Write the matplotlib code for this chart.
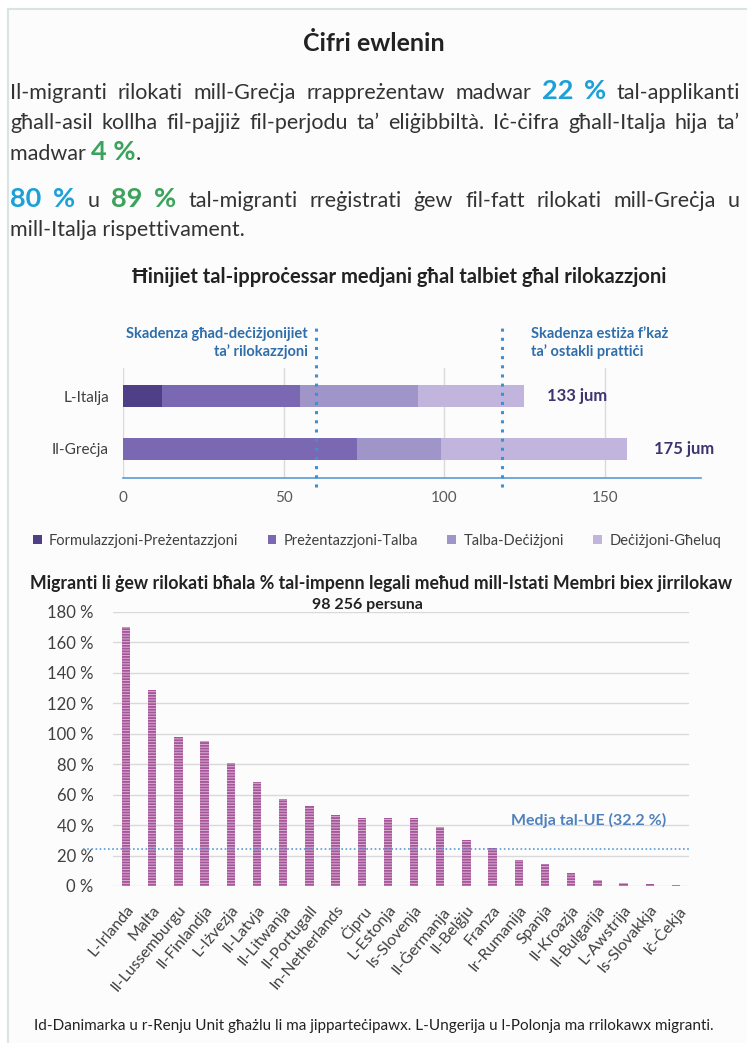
import matplotlib
matplotlib.use('Agg')
import matplotlib.pyplot as plt
from matplotlib.patches import Rectangle
import numpy as np

plt.rcParams['font.family'] = ['Lato', 'DejaVu Sans']
plt.rcParams['hatch.linewidth'] = 1.3

# processing times (days), stacked stages
stages = ['Formulazzjoni-Preżentazzjoni', 'Preżentazzjoni-Talba', 'Talba-Deċiżjoni', 'Deċiżjoni-Għeluq']
stage_colors = ['#4f3f87', '#7a68b2', '#a095c9', '#c1b5dd']
countries_h = ['Il-Greċja', 'L-Italja']
grecja = [0, 73, 26, 58]
italja = [12, 43, 37, 33]
totals = ['175 jum', '133 jum']
deadlines = [60, 118]

# relocated as % of legal commitment
states = ['L-Irlanda', 'Malta', 'Il-Lussemburgu', 'Il-Finlandja', 'L-Iżvezja', 'Il-Latvja',
          'Il-Litwanja', 'Il-Portugall', 'In-Netherlands', 'Ċipru', 'L-Estonja', 'Is-Slovenja',
          'Il-Ġermanja', 'Il-Belġju', 'Franza', 'Ir-Rumanija', 'Spanja', 'Il-Kroazja',
          'Il-Bulgarija', 'L-Awstrija', 'Is-Slovakkja', 'Iċ-Ċekja']
pct = [170, 128.5, 98, 95.5, 80.5, 68.5, 57, 52.5, 46.5, 44.8, 44.5, 44.5,
       39, 30.5, 25, 17, 14.3, 8.3, 4.2, 2.0, 1.3, 0.4]
eu_avg_line = 24
yticks = [0, 20, 40, 60, 80, 100, 120, 140, 160, 180]

W, H = 747, 1043
blue = '#1ba1d8'
green = '#3aa35c'
dark = '#404040'

fig = plt.figure(figsize=(W/100, H/100), dpi=100)
fig.patch.set_facecolor('white')
fig.patches.append(Rectangle((8/W, -0.1), 1.0, 1 - 9/H + 0.1, transform=fig.transFigure,
                             facecolor='#fcfcfc', edgecolor='#d5e6e3', lw=1.5, zorder=-5))

def fx(x):
    return x / W

def fy(y):
    return 1 - y / H

renderer = fig.canvas.get_renderer()

def line_of(pieces, x, y):
    for txt, kw in pieces:
        t = fig.text(fx(x), fy(y), txt, va='baseline', ha='left', **kw)
        x += t.get_window_extent(renderer).width

def justified(pieces, x, y, right):
    # spread the words so the line runs to the right edge
    words = []
    for txt, kw in pieces:
        for w in txt.split(' '):
            if w:
                words.append((w, kw))
    arts = [fig.text(fx(x), fy(y), w, va='baseline', ha='left', **kw) for w, kw in words]
    widths = [t.get_window_extent(renderer).width for t in arts]
    gap = (right - x - sum(widths)) / (len(arts) - 1)
    for t, wd in zip(arts, widths):
        t.set_x(fx(x))
        x += wd + gap

body = dict(fontsize=15.5, color='#333333')
big_b = dict(fontsize=19.5, color=blue, fontweight='bold')
big_g = dict(fontsize=19.5, color=green, fontweight='bold')

fig.text(0.5, fy(51), 'Ċifri ewlenin', ha='center', va='baseline', fontsize=18,
         fontweight='bold', color='#222222')
justified([('Il-migranti rilokati mill-Greċja rrappreżentaw madwar', body), ('22 %', big_b),
           ('tal-applikanti', body)], 10, 99, 740)
justified([('għall-asil kollha fil-pajjiż fil-perjodu ta’ eliġibbiltà. Iċ-ċifra għall-Italja hija ta’', body)],
          10, 129, 740)
line_of([('madwar ', body), ('4 %', big_g), ('.', body)], 10, 160)
justified([('80 %', big_b), ('u', body), ('89 %', big_g),
           ('tal-migranti rreġistrati ġew fil-fatt rilokati mill-Greċja u', body)], 10, 207, 740)
line_of([('mill-Italja rispettivament.', body)], 10, 236)

fig.text(fx(399), fy(283), 'Ħinijiet tal-ipproċessar medjani għal talbiet għal rilokazzjoni',
         ha='center', va='baseline', fontsize=14.5, fontweight='bold', color='#222222')

# horizontal stacked bars
ax = fig.add_axes([fx(123), fy(478), fx(578), 110/H])
ax.set_facecolor('none')
ypos = np.arange(len(countries_h))
data_h = np.array([grecja, italja])
left = np.zeros(len(countries_h))
handles = []
for i in range(len(stages)):
    b = ax.barh(ypos, data_h[:, i], left=left, height=0.42, color=stage_colors[i], zorder=2)
    handles.append(b)
    left += data_h[:, i]
for j in range(len(countries_h)):
    ax.text(left[j] + (7 if j == 1 else 8.5), ypos[j], totals[j], ha='left', va='center',
            fontsize=12, fontweight='bold', color='#3d3470')
ax.set_xlim(0, 180)
ax.set_ylim(-0.55, 1.53)
ax.set_yticks(ypos)
ax.set_yticklabels(countries_h, fontsize=11, color=dark)
ax.set_xticks([0, 50, 100, 150])
ax.tick_params(axis='y', length=0, pad=10)
ax.tick_params(axis='x', length=0, pad=9, labelsize=11, labelcolor='#595959')
ax.grid(axis='x', color='#d9d9d9', lw=1, zorder=0)
for s in ['top', 'right', 'left']:
    ax.spines[s].set_visible(False)
ax.spines['bottom'].set_color('#5b9bd5')
ax.spines['bottom'].set_linewidth(1.2)
tr = ax.get_xaxis_transform()
for d in deadlines:
    ax.plot([d, d], [-0.08, 1.36], transform=tr, color='#3d8fd6', ls=(0, (1, 2)), lw=2.2,
            clip_on=False, zorder=3)
ax.text(deadlines[0] - 2.5, 1.23, 'Skadenza għad-deċiżjonijiet\nta’ rilokazzjoni', transform=tr,
        ha='right', va='center', fontsize=10.5, fontweight='bold', color='#2f6eaa', linespacing=1.3)
ax.text(deadlines[1] + 9, 1.23, 'Skadenza estiża f’każ\nta’ ostakli prattiċi', transform=tr,
        ha='left', va='center', fontsize=10.5, fontweight='bold', color='#2f6eaa', linespacing=1.3)

fig.legend(handles, stages, loc='center', bbox_to_anchor=(fx(377), fy(541)), ncol=4,
           frameon=False, handlelength=0.6, handleheight=0.6, handletextpad=0.5,
           columnspacing=2.0, prop={'size': 10.5}, labelcolor=dark)

fig.text(fx(30), fy(589), 'Migranti li ġew rilokati bħala % tal-impenn legali meħud mill-Istati Membri biex jirrilokaw',
         ha='left', va='baseline', fontsize=12.8, fontweight='bold', color='#222222')
fig.text(fx(367), fy(609), '98 256 persuna', ha='center', va='baseline', fontsize=11.5,
         fontweight='bold', color='#222222')

# vertical bars
ax2 = fig.add_axes([fx(113), fy(886), fx(576), 274/H])
ax2.set_facecolor('none')
xpos = np.arange(len(states))
ax2.bar(xpos, pct, width=0.32, color='#dcb0d4', edgecolor='#a5559a', hatch='------', lw=0, zorder=2)
ax2.set_xlim(-0.5, len(states) - 0.5)
ax2.set_ylim(0, 180)
ax2.set_yticks(yticks)
ax2.set_yticklabels([f'{v} %' for v in yticks], fontsize=12, color=dark)
ax2.set_xticks(xpos)
ax2.set_xticklabels(states, rotation=50, ha='right', rotation_mode='anchor', fontsize=11.5,
                    color='#404040')
ax2.tick_params(length=0)
ax2.tick_params(axis='y', pad=14)
ax2.tick_params(axis='x', pad=12)
ax2.grid(axis='y', color='#d9d9d9', lw=1, zorder=0)
for s in ax2.spines.values():
    s.set_visible(False)
btr = ax2.get_yaxis_transform()
ax2.plot([-0.052, 1.0], [eu_avg_line, eu_avg_line], transform=btr, color='#5b9bd5',
         ls=(0, (1, 1.5)), lw=1.2, clip_on=False, zorder=3)
ax2.text(0.825, 43, 'Medja tal-UE (32.2 %)', transform=btr, ha='center', va='center',
         fontsize=11.5, fontweight='bold', color='#4f81bd')

fig.text(0.5, fy(1030), 'Id-Danimarka u r-Renju Unit għażlu li ma jipparteċipawx. L-Ungerija u l-Polonja ma rrilokawx migranti.',
         ha='center', va='baseline', fontsize=11, color='#222222')

fig.savefig('out.png', dpi=100, facecolor=fig.get_facecolor())
